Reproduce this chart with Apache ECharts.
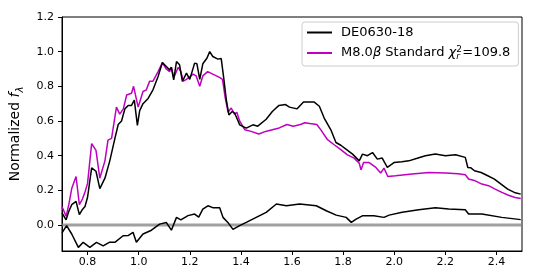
<!DOCTYPE html>
<html>
<head>
<meta charset="utf-8">
<script src="https://cdn.jsdelivr.net/npm/echarts@6/dist/echarts.min.js"></script>
<style>html,body{margin:0;padding:0;background:#fff}#c{width:538px;height:272px}</style>
</head>
<body>
<div id="c"></div>
<script>
// ---- data ----
const objWave = [0.700,0.716,0.727,0.738,0.755,0.768,0.780,0.790,0.800,0.816,0.833,0.848,0.858,0.868,0.887,0.907,0.920,0.933,0.946,0.959,0.972,0.983,0.995,1.004,1.017,1.037,1.056,1.076,1.093,1.108,1.121,1.128,1.137,1.148,1.160,1.171,1.187,1.200,1.219,1.228,1.239,1.251,1.267,1.278,1.290,1.310,1.323,1.332,1.343,1.353,1.366,1.375,1.384,1.395,1.421,1.447,1.466,1.499,1.523,1.549,1.575,1.590,1.620,1.645,1.670,1.687,1.707,1.726,1.752,1.772,1.791,1.811,1.837,1.863,1.876,1.895,1.915,1.934,1.953,1.960,1.973,1.999,2.030,2.057,2.090,2.122,2.161,2.200,2.240,2.278,2.288,2.300,2.314,2.340,2.366,2.392,2.418,2.444,2.470,2.495];
const objFlux = [0.07,0.03,0.08,0.117,0.136,0.06,0.09,0.107,0.16,0.33,0.31,0.21,0.24,0.27,0.37,0.50,0.58,0.60,0.67,0.69,0.69,0.72,0.575,0.66,0.70,0.73,0.78,0.857,0.937,0.914,0.895,0.91,0.837,0.943,0.924,0.828,0.876,0.84,0.934,0.93,0.84,0.93,0.962,1.0,0.972,0.957,0.96,0.857,0.722,0.635,0.655,0.646,0.617,0.578,0.559,0.578,0.57,0.61,0.655,0.69,0.695,0.68,0.67,0.71,0.71,0.709,0.685,0.617,0.549,0.476,0.46,0.438,0.409,0.37,0.409,0.40,0.418,0.38,0.386,0.38,0.332,0.36,0.365,0.37,0.385,0.40,0.409,0.40,0.405,0.39,0.332,0.33,0.313,0.303,0.284,0.265,0.236,0.207,0.188,0.178];

const stdWave = [0.700,0.716,0.727,0.738,0.755,0.768,0.780,0.790,0.800,0.816,0.833,0.848,0.858,0.868,0.880,0.894,0.913,0.926,0.940,0.953,0.972,0.980,0.998,1.017,1.030,1.043,1.056,1.076,1.093,1.108,1.121,1.128,1.137,1.155,1.165,1.175,1.187,1.213,1.225,1.239,1.251,1.270,1.290,1.318,1.328,1.338,1.350,1.362,1.375,1.384,1.395,1.415,1.440,1.470,1.497,1.523,1.550,1.580,1.605,1.633,1.650,1.670,1.697,1.713,1.739,1.765,1.791,1.817,1.843,1.863,1.870,1.880,1.902,1.928,1.947,1.960,1.975,2.005,2.070,2.135,2.200,2.250,2.278,2.291,2.317,2.343,2.369,2.395,2.421,2.447,2.473,2.495];
const stdFlux = [0.107,0.05,0.12,0.21,0.28,0.117,0.15,0.19,0.24,0.47,0.43,0.27,0.32,0.37,0.49,0.50,0.68,0.64,0.67,0.75,0.76,0.80,0.68,0.77,0.78,0.83,0.83,0.885,0.937,0.90,0.885,0.91,0.85,0.91,0.885,0.83,0.84,0.87,0.86,0.80,0.86,0.885,0.87,0.85,0.84,0.74,0.65,0.675,0.64,0.65,0.60,0.55,0.54,0.525,0.54,0.55,0.56,0.58,0.57,0.58,0.59,0.585,0.58,0.549,0.492,0.463,0.435,0.405,0.386,0.357,0.318,0.36,0.36,0.332,0.30,0.328,0.28,0.284,0.294,0.303,0.30,0.295,0.29,0.265,0.255,0.236,0.227,0.207,0.188,0.172,0.159,0.153];

const resWave = [0.700,0.705,0.718,0.738,0.764,0.783,0.809,0.835,0.861,0.885,0.907,0.939,0.960,0.978,0.991,1.017,1.050,1.082,1.108,1.128,1.148,1.165,1.193,1.219,1.235,1.251,1.271,1.290,1.317,1.330,1.349,1.369,1.395,1.421,1.460,1.499,1.539,1.578,1.630,1.695,1.734,1.773,1.812,1.832,1.851,1.877,1.920,1.960,1.980,2.031,2.096,2.161,2.213,2.278,2.291,2.343,2.421,2.495];
const resFlux = [-0.045,-0.042,-0.004,-0.052,-0.129,-0.10,-0.129,-0.10,-0.12,-0.10,-0.10,-0.062,-0.06,-0.042,-0.10,-0.052,-0.03,0.005,0.015,-0.03,0.044,0.03,0.054,0.063,0.045,0.092,0.111,0.10,0.10,0.044,0.015,-0.025,-0.004,0.015,0.044,0.073,0.121,0.111,0.121,0.111,0.082,0.057,0.044,0.015,0.034,0.054,0.054,0.044,0.057,0.073,0.088,0.10,0.092,0.088,0.063,0.063,0.044,0.031];

const zeroWave = [0.70, 1.00, 1.40, 1.85, 2.20, 2.50];
const zeroFlux = [0.0, 0.0, 0.0, 0.0, 0.0, 0.0];

const xTicks = [0.8, 1.0, 1.2, 1.4, 1.6, 1.8, 2.0, 2.2, 2.4];
const yTicks = [0.0, 0.2, 0.4, 0.6, 0.8, 1.0, 1.2];

const objName = 'DE0630-18';
const stdName = 'M8.0β Standard χ2r=109.8';

const pair = (xs, ys) => xs.map((x, i) => [x, ys[i]]);
const FONT = 'DejaVu Sans';

const chart = echarts.init(document.getElementById('c'), null, {renderer: 'canvas'});
chart.setOption({
  animation: false,
  backgroundColor: '#fff',
  textStyle: {fontFamily: FONT},
  grid: {left: 62, top: 17, right: 16, bottom: 21, show: true, borderColor: '#000', borderWidth: 1, backgroundColor: 'transparent'},
  legend: {
    orient: 'vertical',
    left: 302, top: 22,
    padding: [4, 8, 5, 5],
    itemWidth: 25, itemHeight: 2, itemGap: 6,
    icon: 'rect',
    borderColor: '#ccc', borderWidth: 1, borderRadius: 3,
    backgroundColor: 'rgba(255,255,255,0.8)',
    data: [objName, stdName],
    formatter: function (name) {
      if (name === stdName) return '{t|M8.0}{i|β}{t| Standard }{i|χ}{sup|2}{sub|r}{t|=109.8}';
      return '{t|' + name + '}';
    },
    textStyle: {
      fontFamily: FONT, color: '#000', padding: [0, 0, 0, 4],
      rich: {
        t: {fontFamily: FONT, fontSize: 13, color: '#000', lineHeight: 16},
        i: {fontFamily: FONT, fontStyle: 'italic', fontSize: 13, color: '#000', lineHeight: 16},
        sup: {fontFamily: FONT, fontSize: 9, color: '#000', lineHeight: 16, width: 0, verticalAlign: 'top'},
        sub: {fontFamily: FONT, fontStyle: 'italic', fontSize: 9, color: '#000', lineHeight: 16, width: 6, verticalAlign: 'bottom'}
      }
    }
  },
  xAxis: {
    type: 'value', min: 0.7, max: 2.5,
    axisLine: {show: true, onZero: false, lineStyle: {color: '#000', width: 1}},
    axisTick: {show: true, inside: false, length: 4, customValues: xTicks, lineStyle: {color: '#000'}},
    axisLabel: {customValues: xTicks, fontSize: 11, color: '#000', margin: 6, fontFamily: FONT,
      formatter: v => v.toFixed(1)},
    splitLine: {show: false}
  },
  yAxis: {
    type: 'value', min: -0.15, max: 1.2,
    name: '{a|Normalized }{i|f}{s|λ}',
    nameLocation: 'middle', nameGap: 32, nameRotate: 90,
    nameTextStyle: {rich: {
      a: {fontFamily: FONT, fontSize: 14, color: '#000'},
      i: {fontFamily: FONT, fontSize: 14, fontStyle: 'italic', color: '#000'},
      s: {fontFamily: FONT, fontSize: 10, fontStyle: 'italic', color: '#000', verticalAlign: 'bottom', lineHeight: 20}
    }},
    axisLine: {show: true, onZero: false, lineStyle: {color: '#000', width: 1}},
    axisTick: {show: true, inside: false, length: 4, customValues: yTicks, lineStyle: {color: '#000'}},
    axisLabel: {customValues: yTicks, fontSize: 11, color: '#000', margin: 8, fontFamily: FONT,
      formatter: v => v.toFixed(1)},
    splitLine: {show: false}
  },
  series: [
    {name: 'zero', type: 'line', data: pair(zeroWave, zeroFlux), showSymbol: false, symbol: 'none',
      lineStyle: {color: 'rgba(128,128,128,0.75)', width: 3}, silent: true, z: 1},
    {name: objName, type: 'line', data: pair(objWave, objFlux), showSymbol: false, symbol: 'none',
      lineStyle: {color: '#000000', width: 1.5}, itemStyle: {color: '#000000'}, z: 3},
    {name: stdName, type: 'line', data: pair(stdWave, stdFlux), showSymbol: false, symbol: 'none',
      lineStyle: {color: '#bf00bf', width: 1.5}, itemStyle: {color: '#bf00bf'}, z: 2},
    {name: 'residual', type: 'line', data: pair(resWave, resFlux), showSymbol: false, symbol: 'none',
      lineStyle: {color: '#000000', width: 1.5}, itemStyle: {color: '#000000'}, z: 3}
  ]
});
</script>
</body>
</html>
